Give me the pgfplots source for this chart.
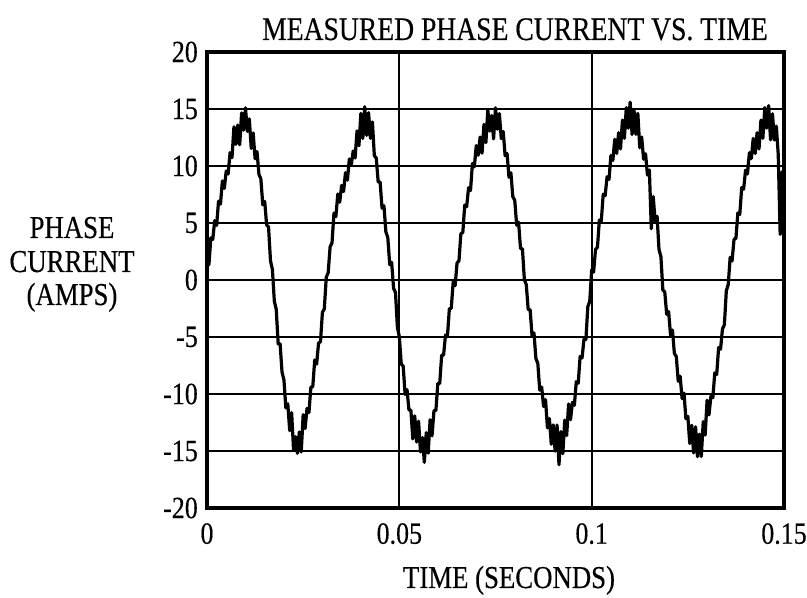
\documentclass[border=0pt]{standalone}
\usepackage{fontspec}
\setmainfont[FakeStretch=0.84, FakeBold=0.4]{Liberation Serif}
\usepackage{pgfplots}
\pgfplotsset{compat=1.18}
\begin{document}
\begin{tikzpicture}[x=1bp,y=1bp]
\useasboundingbox (0,0) rectangle (807,598);
\begin{axis}[
  at={(207bp,90bp)}, anchor=south west,
  scale only axis, width=577bp, height=456bp,
  xmin=0, xmax=0.15, ymin=-20, ymax=20,
  xtick={0,0.05,0.1,0.15}, xticklabels={0,0.05,0.1,0.15},
  ytick={-20,-15,-10,-5,0,5,10,15,20},
  yticklabels={-20,-15,-10,-5,0,5,10,15,20},
  grid=major, major grid style={black, line width=2.3bp},
  axis line style={line width=3.5bp},
  major tick length=0pt,
  tick style={draw=none},
  xticklabel style={font=\fontsize{31}{31}\selectfont, inner sep=0pt, anchor=north, yshift=-15bp},
  yticklabel style={font=\fontsize{31}{31}\selectfont, inner sep=0pt, anchor=east, xshift=-9bp},
  clip=true,
]
\addplot[black, line width=3.2bp, line join=round] coordinates {
(0.0000,1.5) (0.0005,1.35) (0.0010,3.7) (0.0015,3.56) (0.0020,5.21) (0.0025,4.79) (0.0030,6.92) (0.0035,6.66) (0.0040,8.69) (0.0045,8.03)
(0.0050,9.56) (0.0055,9.3) (0.0060,11.17) (0.0065,10.73) (0.0070,13.44) (0.0075,11.89) (0.0080,13.59) (0.0085,11.86) (0.0090,14.66) (0.0095,13.14)
(0.0100,15.1) (0.0105,13.03) (0.0110,14.14) (0.0115,11.54) (0.0120,12.9) (0.0125,10.63) (0.0130,11.26) (0.0135,9.27) (0.0140,8.88) (0.0145,6.59)
(0.0150,6.9) (0.0155,4.82) (0.0160,4.65) (0.0165,1.69) (0.0170,0.93) (0.0175,-1.85) (0.0180,-2.58) (0.0185,-5.6) (0.0190,-5.59) (0.0195,-8.08)
(0.0200,-8.77) (0.0205,-11.22) (0.0210,-10.86) (0.0215,-13.22) (0.0220,-11.63) (0.0225,-14.9) (0.0230,-13.74) (0.0235,-15.2) (0.0240,-13.33) (0.0245,-15.08)
(0.0250,-11.81) (0.0255,-13.04) (0.0260,-11.27) (0.0265,-11.63) (0.0270,-9.4) (0.0275,-9.36) (0.0280,-7.02) (0.0285,-7.38) (0.0290,-5.53) (0.0295,-5.42)
(0.0300,-2.83) (0.0305,-2.54) (0.0310,0.24) (0.0315,0.64) (0.0320,2.9) (0.0325,3.26) (0.0330,5.87) (0.0335,5.55) (0.0340,7.54) (0.0345,6.82)
(0.0350,8.3) (0.0355,7.75) (0.0360,9.41) (0.0365,8.76) (0.0370,10.62) (0.0375,10.05) (0.0380,11.32) (0.0385,10.7) (0.0390,13.08) (0.0395,11.78)
(0.0400,14.62) (0.0405,12.41) (0.0410,15.2) (0.0415,12.68) (0.0420,14.68) (0.0425,12.42) (0.0430,13.87) (0.0435,10.9) (0.0440,10.7) (0.0445,8.59)
(0.0450,8.6) (0.0455,6.3) (0.0460,6.51) (0.0465,4.22) (0.0470,3.73) (0.0475,1.34) (0.0480,1.55) (0.0485,-0.73) (0.0490,-1.1) (0.0495,-4.17)
(0.0500,-4.98) (0.0505,-7.37) (0.0510,-7.56) (0.0515,-10.04) (0.0520,-9.62) (0.0525,-11.41) (0.0530,-11.41) (0.0535,-13.94) (0.0540,-11.92) (0.0545,-14.22)
(0.0550,-12.38) (0.0555,-15.08) (0.0560,-13.82) (0.0565,-16.0) (0.0570,-13.39) (0.0575,-15.19) (0.0580,-12.26) (0.0585,-13.67) (0.0590,-11.46) (0.0595,-11.45)
(0.0600,-9.07) (0.0605,-9.08) (0.0610,-6.59) (0.0615,-6.6) (0.0620,-4.82) (0.0625,-4.97) (0.0630,-2.53) (0.0635,-2.48) (0.0640,-0.14) (0.0645,-0.5)
(0.0650,1.49) (0.0655,1.68) (0.0660,4.07) (0.0665,4.16) (0.0670,6.57) (0.0675,6.43) (0.0680,8.09) (0.0685,7.85) (0.0690,10.22) (0.0695,9.93)
(0.0700,11.79) (0.0705,10.94) (0.0710,12.54) (0.0715,11.12) (0.0720,13.65) (0.0725,12.05) (0.0730,14.94) (0.0735,13.06) (0.0740,14.43) (0.0745,12.37)
(0.0750,15.1) (0.0755,13.22) (0.0760,14.6) (0.0765,12.4) (0.0770,13.03) (0.0775,10.9) (0.0780,11.1) (0.0785,9.0) (0.0790,9.4) (0.0795,7.3)
(0.0800,7.0) (0.0805,4.8) (0.0810,5.07) (0.0815,2.76) (0.0820,2.74) (0.0825,0.03) (0.0830,-0.41) (0.0835,-2.6) (0.0840,-2.6) (0.0845,-4.89)
(0.0850,-4.65) (0.0855,-6.89) (0.0860,-7.33) (0.0865,-9.66) (0.0870,-9.4) (0.0875,-11.09) (0.0880,-10.49) (0.0885,-12.98) (0.0890,-12.15) (0.0895,-14.41)
(0.0900,-12.71) (0.0905,-15.02) (0.0910,-12.72) (0.0915,-16.2) (0.0920,-13.29) (0.0925,-15.24) (0.0930,-12.29) (0.0935,-13.65) (0.0940,-10.88) (0.0945,-12.26)
(0.0950,-10.73) (0.0955,-10.99) (0.0960,-8.92) (0.0965,-9.06) (0.0970,-6.7) (0.0975,-6.84) (0.0980,-5.18) (0.0985,-5.21) (0.0990,-2.34) (0.0995,-1.87)
(0.1000,0.9) (0.1005,0.69) (0.1010,2.68) (0.1015,2.87) (0.1020,5.26) (0.1025,5.17) (0.1030,7.53) (0.1035,7.39) (0.1040,9.05) (0.1045,8.82)
(0.1050,10.93) (0.1055,10.49) (0.1060,12.34) (0.1065,11.1) (0.1070,12.92) (0.1075,11.49) (0.1080,14.03) (0.1085,12.42) (0.1090,15.12) (0.1095,13.31)
(0.1100,15.6) (0.1105,12.76) (0.1110,14.93) (0.1115,12.78) (0.1120,14.62) (0.1125,11.6) (0.1130,12.54) (0.1135,10.59) (0.1140,11.07) (0.1145,9.21)
(0.1150,9.65) (0.1155,4.5) (0.1160,7.32) (0.1165,5.16) (0.1170,5.6) (0.1175,2.68) (0.1180,2.05) (0.1185,-0.88) (0.1190,-1.05) (0.1195,-3.01)
(0.1200,-2.77) (0.1205,-4.83) (0.1210,-4.39) (0.1215,-6.45) (0.1220,-6.72) (0.1225,-8.88) (0.1230,-8.44) (0.1235,-10.4) (0.1240,-9.93) (0.1245,-12.17)
(0.1250,-11.96) (0.1255,-14.34) (0.1260,-12.75) (0.1265,-15.17) (0.1270,-12.88) (0.1275,-15.5) (0.1280,-13.53) (0.1285,-15.48) (0.1290,-12.42) (0.1295,-13.6)
(0.1300,-10.55) (0.1305,-11.83) (0.1310,-10.2) (0.1315,-10.32) (0.1320,-8.15) (0.1325,-8.29) (0.1330,-5.93) (0.1335,-6.07) (0.1340,-4.29) (0.1345,-3.93)
(0.1350,-0.96) (0.1355,-0.4) (0.1360,1.99) (0.1365,1.67) (0.1370,3.56) (0.1375,3.65) (0.1380,5.88) (0.1385,5.75) (0.1390,8.11) (0.1395,7.97)
(0.1400,9.63) (0.1405,9.3) (0.1410,11.17) (0.1415,10.65) (0.1420,12.42) (0.1425,11.1) (0.1430,12.92) (0.1435,11.49) (0.1440,14.03) (0.1445,12.42)
(0.1450,15.12) (0.1455,13.32) (0.1460,15.3) (0.1465,12.29) (0.1470,14.58) (0.1475,12.28) (0.1480,13.5) (0.1485,11.0) (0.1490,4.0) (0.1495,9.5)
(0.1500,8.5)
};
\end{axis}
\node[anchor=base, font=\fontsize{33}{33}\selectfont] at (515,558) {MEASURED PHASE CURRENT VS. TIME};
\node[anchor=base, font=\fontsize{32}{32}\selectfont] at (509,10) {TIME (SECONDS)};
\node[anchor=base, font=\fontsize{32}{32}\selectfont] at (72,360) {PHASE};
\node[anchor=base, font=\fontsize{32}{32}\selectfont] at (72,326) {CURRENT};
\node[anchor=base, font=\fontsize{32}{32}\selectfont] at (72,293) {(AMPS)};
\end{tikzpicture}
\end{document}
